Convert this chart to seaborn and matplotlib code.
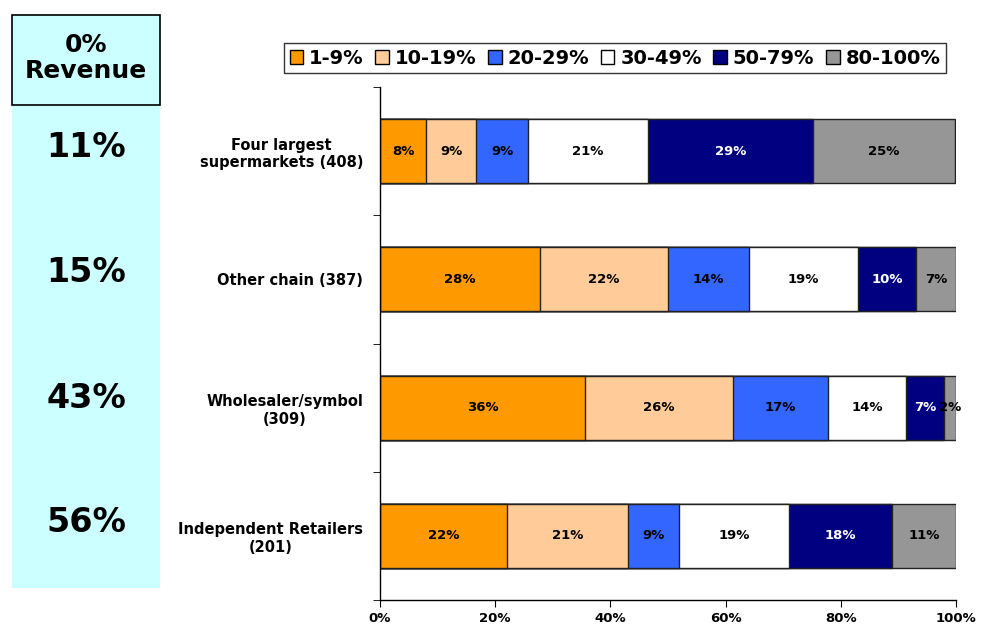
import numpy as np
import matplotlib
matplotlib.use("Agg")
import matplotlib.pyplot as plt
import seaborn as sns
from matplotlib.patches import Patch, Rectangle

# store types (top to bottom)
stores = ["Four largest\nsupermarkets (408)", "Other chain (387)",
          "Wholesaler/symbol\n(309)", "Independent Retailers\n(201)"]
bands = ["1-9%", "10-19%", "20-29%", "30-49%", "50-79%", "80-100%"]
colors = ["#FF9900", "#FFCC99", "#3366FF", "#FFFFFF", "#000080", "#969696"]
text_colors = ["black", "black", "black", "black", "white", "black"]

# share of stores in each revenue band (%)
four_largest = [8.0, 8.7, 9.0, 20.8, 28.6, 24.8]
other_chain = [27.8, 22.2, 14.1, 18.9, 10.1, 6.9]
wholesaler = [35.6, 25.6, 16.6, 13.6, 6.6, 2.0]
independent = [22.0, 21.0, 8.9, 19.1, 17.9, 11.1]

# share with 0% revenue
zero_rev = ["11%", "15%", "43%", "56%"]

sns.set_style("white")
plt.rcParams['font.family'] = ['DejaVu Sans']
plt.rcParams['text.color'] = 'black'
plt.rcParams['xtick.color'] = 'black'
plt.rcParams['ytick.color'] = 'black'

vals = np.array([four_largest, other_chain, wholesaler, independent])
cum = vals.cumsum(axis=1)

fig = plt.figure(figsize=(9.81, 6.28), dpi=100)
ax = fig.add_axes([380/981, 1-600/628, 576/981, 513/628])

# stacked bars: draw cumulative totals from the last band down
for i in range(len(bands)-1, -1, -1):
    sns.barplot(x=cum[:, i], y=stores, color=colors[i], orient="h", width=0.5,
                edgecolor="#222222", linewidth=1, saturation=1, ax=ax)

for r in range(len(stores)):
    left = 0
    for i in range(len(bands)):
        v = vals[r, i]
        ax.text(left + v/2, r, f"{v:.0f}%", ha="center", va="center",
                fontsize=9.5, fontweight="bold", color=text_colors[i])
        left += v

ax.set_xlim(0, 100)
ax.set_ylim(len(stores) - 0.5, -0.5)
ax.set_xticks(range(0, 101, 20))
ax.set_xticklabels([f"{t}%" for t in range(0, 101, 20)], fontsize=9.5, fontweight="bold")
ax.set_yticks(range(len(stores)))
ax.set_yticklabels(stores, fontsize=10.5, fontweight="bold")
for lab in ax.get_yticklabels():
    lab.set_multialignment("center")
ax.set_yticks(np.arange(-0.5, len(stores)), minor=True)
ax.tick_params(axis="y", which="major", length=0, pad=12)
ax.tick_params(axis="y", which="minor", length=5, direction="out", color="black", left=True)
ax.tick_params(axis="x", length=5, direction="out", color="black", bottom=True, pad=4)
ax.set_xlabel("")
ax.set_ylabel("")
for s in ["top", "right"]:
    ax.spines[s].set_visible(False)
for s in ["left", "bottom"]:
    ax.spines[s].set_color("black")
    ax.spines[s].set_linewidth(1)

handles = [Patch(facecolor=c, edgecolor="black", label=b) for b, c in zip(bands, colors)]
leg = fig.legend(handles=handles, loc="center", bbox_to_anchor=(615/981, 1-58/628),
                 ncol=6, frameon=True, fancybox=False, edgecolor="black",
                 prop={"weight": "bold", "size": 14}, handlelength=0.7,
                 handleheight=0.7, handletextpad=0.3, columnspacing=0.6,
                 borderpad=0.3)
leg.get_frame().set_linewidth(1)

# left panel with 0% revenue shares
px0, px1 = 12/981, 160/981
fig.patches.append(Rectangle((px0, 1-588/628), px1-px0, (588-15)/628,
                             transform=fig.transFigure, facecolor="#CCFFFF",
                             edgecolor="none", zorder=0))
fig.patches.append(Rectangle((px0, 1-105/628), px1-px0, 90/628,
                             transform=fig.transFigure, facecolor="#CCFFFF",
                             edgecolor="black", linewidth=1.2, zorder=1))
fig.text((px0+px1)/2, 1-58/628, "0%\nRevenue", ha="center", va="center",
         fontsize=18, fontweight="bold", linespacing=1.15)
ys = [148, 272, 398, 523]
for y, t in zip(ys, zero_rev):
    fig.text((px0+px1)/2, 1-y/628, t, ha="center", va="center",
             fontsize=24, fontweight="bold")

fig.savefig("out.png", dpi=100)
